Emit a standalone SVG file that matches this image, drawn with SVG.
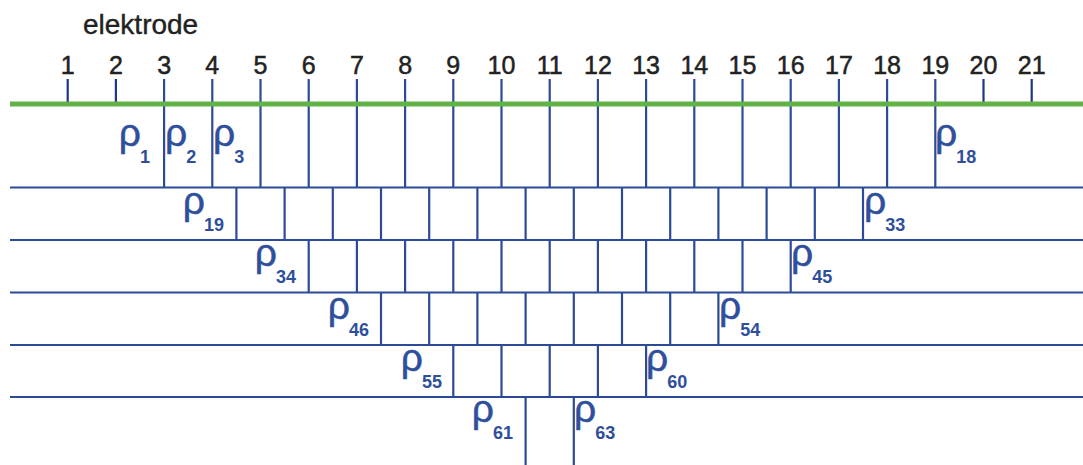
<svg xmlns="http://www.w3.org/2000/svg" width="1083" height="465" viewBox="0 0 1083 465">
<style>
.bg{fill:#ffffff}
.num{font-family:"Liberation Sans",Arial,sans-serif;font-size:25px;fill:#222222;stroke:#222222;stroke-width:0.5;text-anchor:middle}
.ttl{font-family:"Liberation Sans",Arial,sans-serif;font-size:28px;fill:#222222;stroke:#222222;stroke-width:0.4}
.ln{stroke:#2c4a96;stroke-width:2.2;fill:none}
.tk{stroke:#1f3588;stroke-width:2.2;fill:none}
.rho{font-family:"Liberation Sans",Arial,sans-serif;font-size:39px;fill:#2f4f9c;stroke:#2f4f9c;stroke-width:0.5}
.sub{font-size:18px;font-weight:bold;stroke-width:0}
.l{text-anchor:end}
.earth{stroke:#63b246;stroke-width:5;fill:none}
</style>
<rect class="bg" x="0" y="0" width="1083" height="465"/>
<g id="title"><text class="ttl" x="83" y="34">elektrode</text></g>
<g id="electrodes">
<text class="num" x="67.7" y="74">1</text>
<text class="num" x="115.9" y="74">2</text>
<text class="num" x="164.1" y="74">3</text>
<text class="num" x="212.3" y="74">4</text>
<text class="num" x="260.5" y="74">5</text>
<text class="num" x="308.7" y="74">6</text>
<text class="num" x="356.9" y="74">7</text>
<text class="num" x="405.1" y="74">8</text>
<text class="num" x="453.3" y="74">9</text>
<text class="num" x="501.5" y="74">10</text>
<text class="num" x="549.7" y="74">11</text>
<text class="num" x="597.9" y="74">12</text>
<text class="num" x="646.1" y="74">13</text>
<text class="num" x="694.3" y="74">14</text>
<text class="num" x="742.5" y="74">15</text>
<text class="num" x="790.7" y="74">16</text>
<text class="num" x="838.9" y="74">17</text>
<text class="num" x="887.1" y="74">18</text>
<text class="num" x="935.3" y="74">19</text>
<text class="num" x="983.5" y="74">20</text>
<text class="num" x="1031.7" y="74">21</text>
<path class="tk" d="M67.7 79V104M115.9 79V104M983.5 79V104M1031.7 79V104"/>
</g>
<g id="connectors">
<path class="ln" d="M10 187.5H1083M10 240H1083M10 292.5H1083M10 345H1083M10 397H1083"/>
<path class="ln" d="M164.1 79V187.5M212.3 79V187.5M260.5 79V187.5M308.7 79V187.5M356.9 79V187.5M405.1 79V187.5M453.3 79V187.5M501.5 79V187.5M549.7 79V187.5M597.9 79V187.5M646.1 79V187.5M694.3 79V187.5M742.5 79V187.5M790.7 79V187.5M838.9 79V187.5M887.1 79V187.5M935.3 79V187.5"/>
<path class="ln" d="M236.4 187.5V240M284.6 187.5V240M332.8 187.5V240M381 187.5V240M429.2 187.5V240M477.4 187.5V240M525.6 187.5V240M573.8 187.5V240M622 187.5V240M670.2 187.5V240M718.4 187.5V240M766.6 187.5V240M814.8 187.5V240M863 187.5V240"/>
<path class="ln" d="M308.7 240V292.5M356.9 240V292.5M405.1 240V292.5M453.3 240V292.5M501.5 240V292.5M549.7 240V292.5M597.9 240V292.5M646.1 240V292.5M694.3 240V292.5M742.5 240V292.5M790.7 240V292.5"/>
<path class="ln" d="M381 292.5V345M429.2 292.5V345M477.4 292.5V345M525.6 292.5V345M573.8 292.5V345M622 292.5V345M670.2 292.5V345M718.4 292.5V345"/>
<path class="ln" d="M453.3 345V397M501.5 345V397M549.7 345V397M597.9 345V397M646.1 345V397"/>
<path class="ln" d="M525.6 397V465M573.8 397V465"/>
<path class="earth" d="M10 104H1083"/>
</g>
<g id="layer1">
<text class="rho l" x="150" y="146">ρ<tspan class="sub" dx="-1" dy="17">1</tspan></text>
<text class="rho" x="165" y="146">ρ<tspan class="sub" dx="-1" dy="17">2</tspan></text>
<text class="rho" x="213" y="146">ρ<tspan class="sub" dx="-1" dy="17">3</tspan></text>
<text class="rho" x="935" y="146">ρ<tspan class="sub" dx="-1" dy="17">18</tspan></text>
</g>
<g id="layer2">
<text class="rho l" x="224" y="214">ρ<tspan class="sub" dx="-1" dy="17">19</tspan></text>
<text class="rho" x="864" y="214">ρ<tspan class="sub" dx="-1" dy="17">33</tspan></text>
</g>
<g id="layer3">
<text class="rho l" x="296" y="266">ρ<tspan class="sub" dx="-1" dy="17">34</tspan></text>
<text class="rho" x="791" y="266">ρ<tspan class="sub" dx="-1" dy="17">45</tspan></text>
</g>
<g id="layer4">
<text class="rho l" x="369" y="319">ρ<tspan class="sub" dx="-1" dy="17">46</tspan></text>
<text class="rho" x="719" y="319">ρ<tspan class="sub" dx="-1" dy="17">54</tspan></text>
</g>
<g id="layer5">
<text class="rho l" x="442" y="371">ρ<tspan class="sub" dx="-1" dy="17">55</tspan></text>
<text class="rho" x="646" y="371">ρ<tspan class="sub" dx="-1" dy="17">60</tspan></text>
</g>
<g id="layer6">
<text class="rho l" x="513" y="422">ρ<tspan class="sub" dx="-1" dy="17">61</tspan></text>
<text class="rho" x="574" y="422">ρ<tspan class="sub" dx="-1" dy="17">63</tspan></text>
</g>
</svg>
